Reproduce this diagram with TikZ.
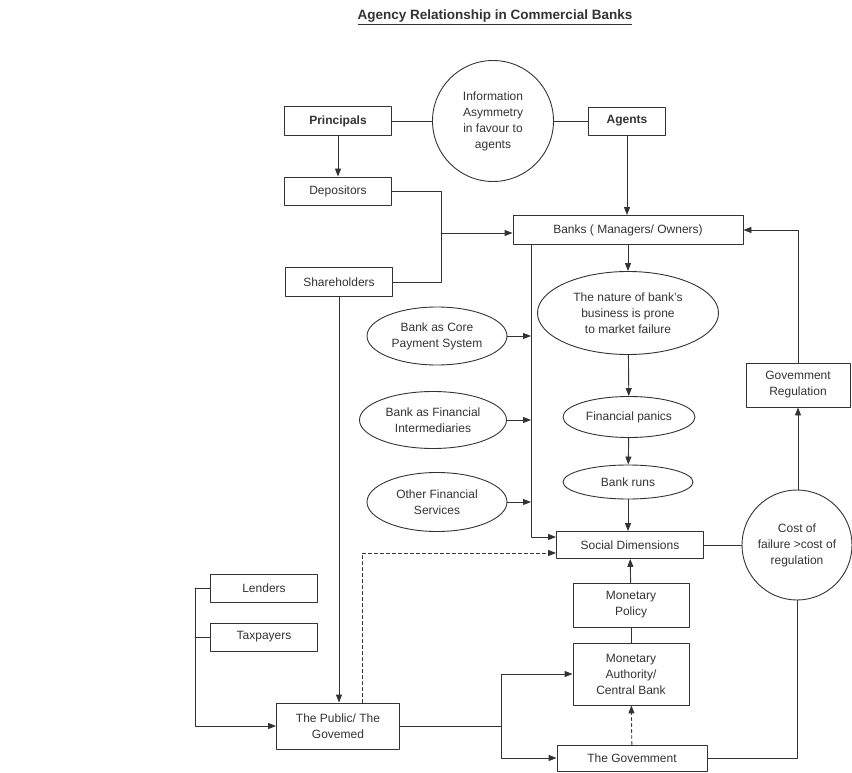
\documentclass[tikz,border=0pt]{standalone}
\usepackage{fontspec}
\setmainfont{Liberation Sans}
\usepackage{xcolor}
\usetikzlibrary{arrows.meta,shapes.geometric}
\tikzset{
  every picture/.style={line join=round, line cap=round, >={Triangle[length=8pt,width=6pt]}},
  ink/.style={draw=black!80, line width=0.9pt},
  box/.style={ink, rectangle, align=center, text=black!80, font=\fontsize{12}{16}\selectfont, inner sep=0pt},
  oval/.style={ink, ellipse, align=center, text=black!80, font=\fontsize{12}{16}\selectfont, inner sep=0pt},
  ring/.style={ink, circle, align=center, text=black!80, font=\fontsize{12}{16}\selectfont, inner sep=0pt},
}

\begin{document}
\begin{tikzpicture}[x=1pt,y=-1pt]
\useasboundingbox (0,0) rectangle (852,773);
\node[font=\fontsize{13.5}{16}\bfseries\selectfont, text=black!80] (title) at (495,17) {\underline{Agency Relationship in Commercial Banks}};
% top row
\node[box, minimum width=107, minimum height=29, font=\fontsize{12}{16}\bfseries\selectfont] (princ) at (338,121) {Principals};
\node[ring, minimum size=121] (info) at (493,121) {Information\\Asymmetry\\in favour to\\agents};
\node[box, minimum width=77, minimum height=28, font=\fontsize{12}{16}\bfseries\selectfont] (agents) at (627,121) {Agents};
\node[box, minimum width=107, minimum height=28] (dep) at (338,191) {Depositors};
\node[box, minimum width=107, minimum height=29] (share) at (339,282) {Shareholders};
\node[box, minimum width=230, minimum height=29] (banks) at (628,230) {Banks ( Managers/ Owners)};
% middle
\node[oval, minimum width=181, minimum height=83] (nature) at (628,313) {The nature of bank's\\business is prone\\to market failure};
\node[oval, minimum width=140, minimum height=58] (core) at (437,336) {Bank as Core\\Payment System};
\node[oval, minimum width=147, minimum height=57] (inter) at (433,420) {Bank as Financial\\Intermediaries};
\node[oval, minimum width=140, minimum height=59] (other) at (437,502) {Other Financial\\Services};
\node[oval, minimum width=132, minimum height=41] (panics) at (629,417) {Financial panics};
\node[oval, minimum width=130, minimum height=34] (runs) at (628,482) {Bank runs};
\node[box, minimum width=104, minimum height=44] (govreg) at (798,385) {Govemment\\Regulation};
\node[box, minimum width=147, minimum height=27] (social) at (630,545) {Social Dimensions};
\node[ring, minimum size=110] (cost) at (797,545) {Cost of\\failure >cost of\\regulation};
% bottom
\node[box, minimum width=107, minimum height=28] (lend) at (264,588) {Lenders};
\node[box, minimum width=107, minimum height=28] (tax) at (264,637) {Taxpayers};
\node[box, minimum width=116, minimum height=44] (policy) at (631,605) {Monetary\\Policy};
\node[box, minimum width=116, minimum height=62] (auth) at (631,674) {Monetary\\Authority/\\Central Bank};
\node[box, minimum width=123, minimum height=46] (public) at (338,726) {The Public/ The\\Govemed};
\node[box, minimum width=150, minimum height=26] (gov) at (632,758) {The Govemment};

\coordinate (j1) at (441,233);
\coordinate (sl) at (531,537);
\coordinate (dl) at (362,553);
\coordinate (lb) at (195,588);
\coordinate (pb) at (501,726);

\draw[ink] (princ) -- (info) -- (agents);
\draw[ink,->] (princ) -- (dep);
\draw[ink,->] (agents.south) -- (agents.south |- banks.north);
\draw[ink] (dep.east) -| (share.east -| j1) -- (share.east);
\draw[ink,->] (j1) -- (j1 -| banks.west);
\draw[ink,->] (banks.south -| nature) -- (nature);
\draw[ink,->] (banks.south -| sl) -- (sl) -- (sl -| social.west);
\foreach \e in {core,inter,other}
  \draw[ink,->] (\e.east) -- (\e.east -| sl);
\draw[ink,->] (nature) -- (panics);
\draw[ink,->] (panics) -- (runs);
\draw[ink,->] (runs.south) -- (runs.south |- social.north);
\draw[ink,->] (share.south) -- (share.south |- public.north);
\draw[ink,dashed,->] (dl |- public.north) -- (dl) -- (dl -| social.west);
\draw[ink] (social) -- (cost);
\draw[ink,->] (cost.north -| govreg) -- (govreg);
\draw[ink,->] (govreg.north) |- (banks.east);
\draw[ink] (cost.south) |- (gov.east);
\draw[ink,->] (policy) -- (social);
\draw[ink] (policy) -- (auth);
\draw[ink,dashed,->] (gov) -- (auth);
\draw[ink] (lend.west) -- (lb);
\draw[ink] (tax.west) -- (tax.west -| lb);
\draw[ink,->] (lb) |- (public.west);
\draw[ink] (public.east) -- (pb);
\draw[ink,->] (pb) |- (auth.west);
\draw[ink,->] (pb) |- (gov.west);
\end{tikzpicture}
\end{document}
